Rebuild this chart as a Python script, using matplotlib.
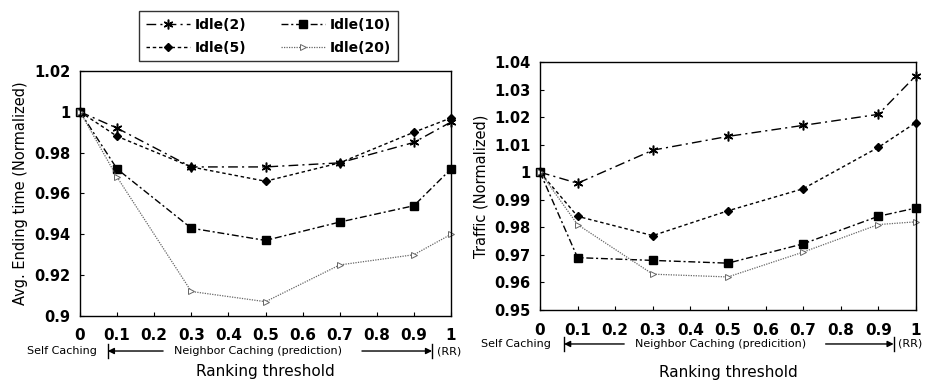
import matplotlib
matplotlib.use('Agg')
import matplotlib.pyplot as plt
import matplotlib.transforms as mtransforms

# ranking threshold positions
thresholds = [0, 0.1, 0.3, 0.5, 0.7, 0.9, 1.0]
x_ticks = [0, 0.1, 0.2, 0.3, 0.4, 0.5, 0.6, 0.7, 0.8, 0.9, 1.0]
x_tick_labels = ['0', '0.1', '0.2', '0.3', '0.4', '0.5', '0.6', '0.7', '0.8', '0.9', '1']

series_names = ['Idle(2)', 'Idle(5)', 'Idle(10)', 'Idle(20)']

# left panel: average ending time (normalized)
ending_idle2 = [1.0, 0.992, 0.973, 0.973, 0.975, 0.985, 0.995]
ending_idle5 = [1.0, 0.988, 0.973, 0.966, 0.975, 0.990, 0.997]
ending_idle10 = [1.0, 0.972, 0.943, 0.937, 0.946, 0.954, 0.972]
ending_idle20 = [1.0, 0.968, 0.912, 0.907, 0.925, 0.930, 0.940]
ending_yticks = [0.9, 0.92, 0.94, 0.96, 0.98, 1.0, 1.02]
ending_ytick_labels = ['0.9', '0.92', '0.94', '0.96', '0.98', '1', '1.02']

# right panel: traffic (normalized)
traffic_idle2 = [1.0, 0.996, 1.008, 1.013, 1.017, 1.021, 1.035]
traffic_idle5 = [1.0, 0.984, 0.977, 0.986, 0.994, 1.009, 1.018]
traffic_idle10 = [1.0, 0.969, 0.968, 0.967, 0.974, 0.984, 0.987]
traffic_idle20 = [1.0, 0.981, 0.963, 0.962, 0.971, 0.981, 0.982]
traffic_yticks = [0.95, 0.96, 0.97, 0.98, 0.99, 1.0, 1.01, 1.02, 1.03, 1.04]
traffic_ytick_labels = ['0.95', '0.96', '0.97', '0.98', '0.99', '1',
                        '1.01', '1.02', '1.03', '1.04']

styles = [
    dict(color='black', linestyle=(0, (7, 3, 1.5, 3)), linewidth=1.0,
         marker=(6, 2, 0), markersize=7, markeredgewidth=1.1),
    dict(color='black', linestyle=(0, (2.5, 2)), linewidth=1.0,
         marker='D', markersize=4.5),
    dict(color='black', linestyle=(0, (5, 2, 1.5, 2)), linewidth=1.0,
         marker='s', markersize=5.5),
    dict(color='#666666', linestyle=(0, (1, 1)), linewidth=0.9,
         marker='>', markersize=4, markerfacecolor='white', markeredgewidth=0.7),
]


def draw_panel(ax, ys, yticks, ytick_labels, ylabel, lim, label_y, middle_text,
               arrow_l, arrow_r, self_x, xlabelpad):
    lines = []
    for name, y, st in zip(series_names, ys, styles):
        ln, = ax.plot(thresholds, y, label=name, clip_on=False, **st)
        lines.append(ln)
    ax.set_xlim(0, 1)
    ax.set_ylim(*lim)
    ax.set_xticks(x_ticks)
    ax.set_xticklabels(x_tick_labels, fontweight='bold', fontsize=11)
    ax.set_yticks(yticks)
    ax.set_yticklabels(ytick_labels, fontweight='bold', fontsize=10.5)
    ax.tick_params(direction='in', length=3, width=0.8)
    ax.tick_params(axis='x', pad=9)
    ax.tick_params(axis='y', pad=7)
    for s in ax.spines.values():
        s.set_linewidth(1.0)
    ax.set_ylabel(ylabel, fontsize=10.5)
    ax.set_xlabel('Ranking threshold', fontsize=11, labelpad=xlabelpad)

    trans = mtransforms.blended_transform_factory(ax.transData, ax.transAxes)
    ax.text(self_x, label_y, 'Self Caching', transform=trans, ha='center',
            va='center', fontsize=8)
    ax.text(0.48, label_y, middle_text, transform=trans, ha='center',
            va='center', fontsize=8)
    ax.text(arrow_r + 0.012, label_y, '(RR)', transform=trans, ha='left',
            va='center', fontsize=8)
    ax.annotate('', xy=(arrow_l, label_y), xytext=(0.224, label_y),
                xycoords=trans, textcoords=trans, annotation_clip=False,
                arrowprops=dict(arrowstyle='-|>', color='black', lw=1.0,
                                shrinkA=0, shrinkB=0, mutation_scale=9))
    ax.annotate('', xy=(arrow_r, label_y), xytext=(0.76, label_y),
                xycoords=trans, textcoords=trans, annotation_clip=False,
                arrowprops=dict(arrowstyle='-|>', color='black', lw=1.0,
                                shrinkA=0, shrinkB=0, mutation_scale=9))
    for bx in (arrow_l, arrow_r):
        ax.plot([bx, bx], [label_y - 0.03, label_y + 0.03], color='black',
                lw=1.0, transform=trans, clip_on=False)
    return lines


fig = plt.figure(figsize=(9.28, 3.83), dpi=100)
ax0 = fig.add_axes([0.0862, 0.175, 0.3998, 0.6397])
ax1 = fig.add_axes([0.5819, 0.1906, 0.405, 0.6475])

lines = draw_panel(ax0, [ending_idle2, ending_idle5, ending_idle10, ending_idle20],
                   ending_yticks, ending_ytick_labels,
                   'Avg. Ending time (Normalized)', (0.9, 1.02), -0.143,
                   'Neighbor Caching (prediction)', 0.075, 0.949, -0.05, 15)
draw_panel(ax1, [traffic_idle2, traffic_idle5, traffic_idle10, traffic_idle20],
           traffic_yticks, traffic_ytick_labels,
           'Traffic (Normalized)', (0.95, 1.04), -0.137,
           'Neighbor Caching (predicition)', 0.064, 0.941, -0.064, 20)

leg = fig.legend(handles=lines, labels=series_names, ncol=2,
                 loc='center', bbox_to_anchor=(0.289, 0.905),
                 prop=dict(weight='bold', size=10), frameon=True,
                 fancybox=False, edgecolor='black', handlelength=3.2,
                 columnspacing=2.5, handletextpad=0.3, borderpad=0.5,
                 labelspacing=0.6)
leg.get_frame().set_linewidth(1.0)

fig.savefig('out.png', dpi=100)
